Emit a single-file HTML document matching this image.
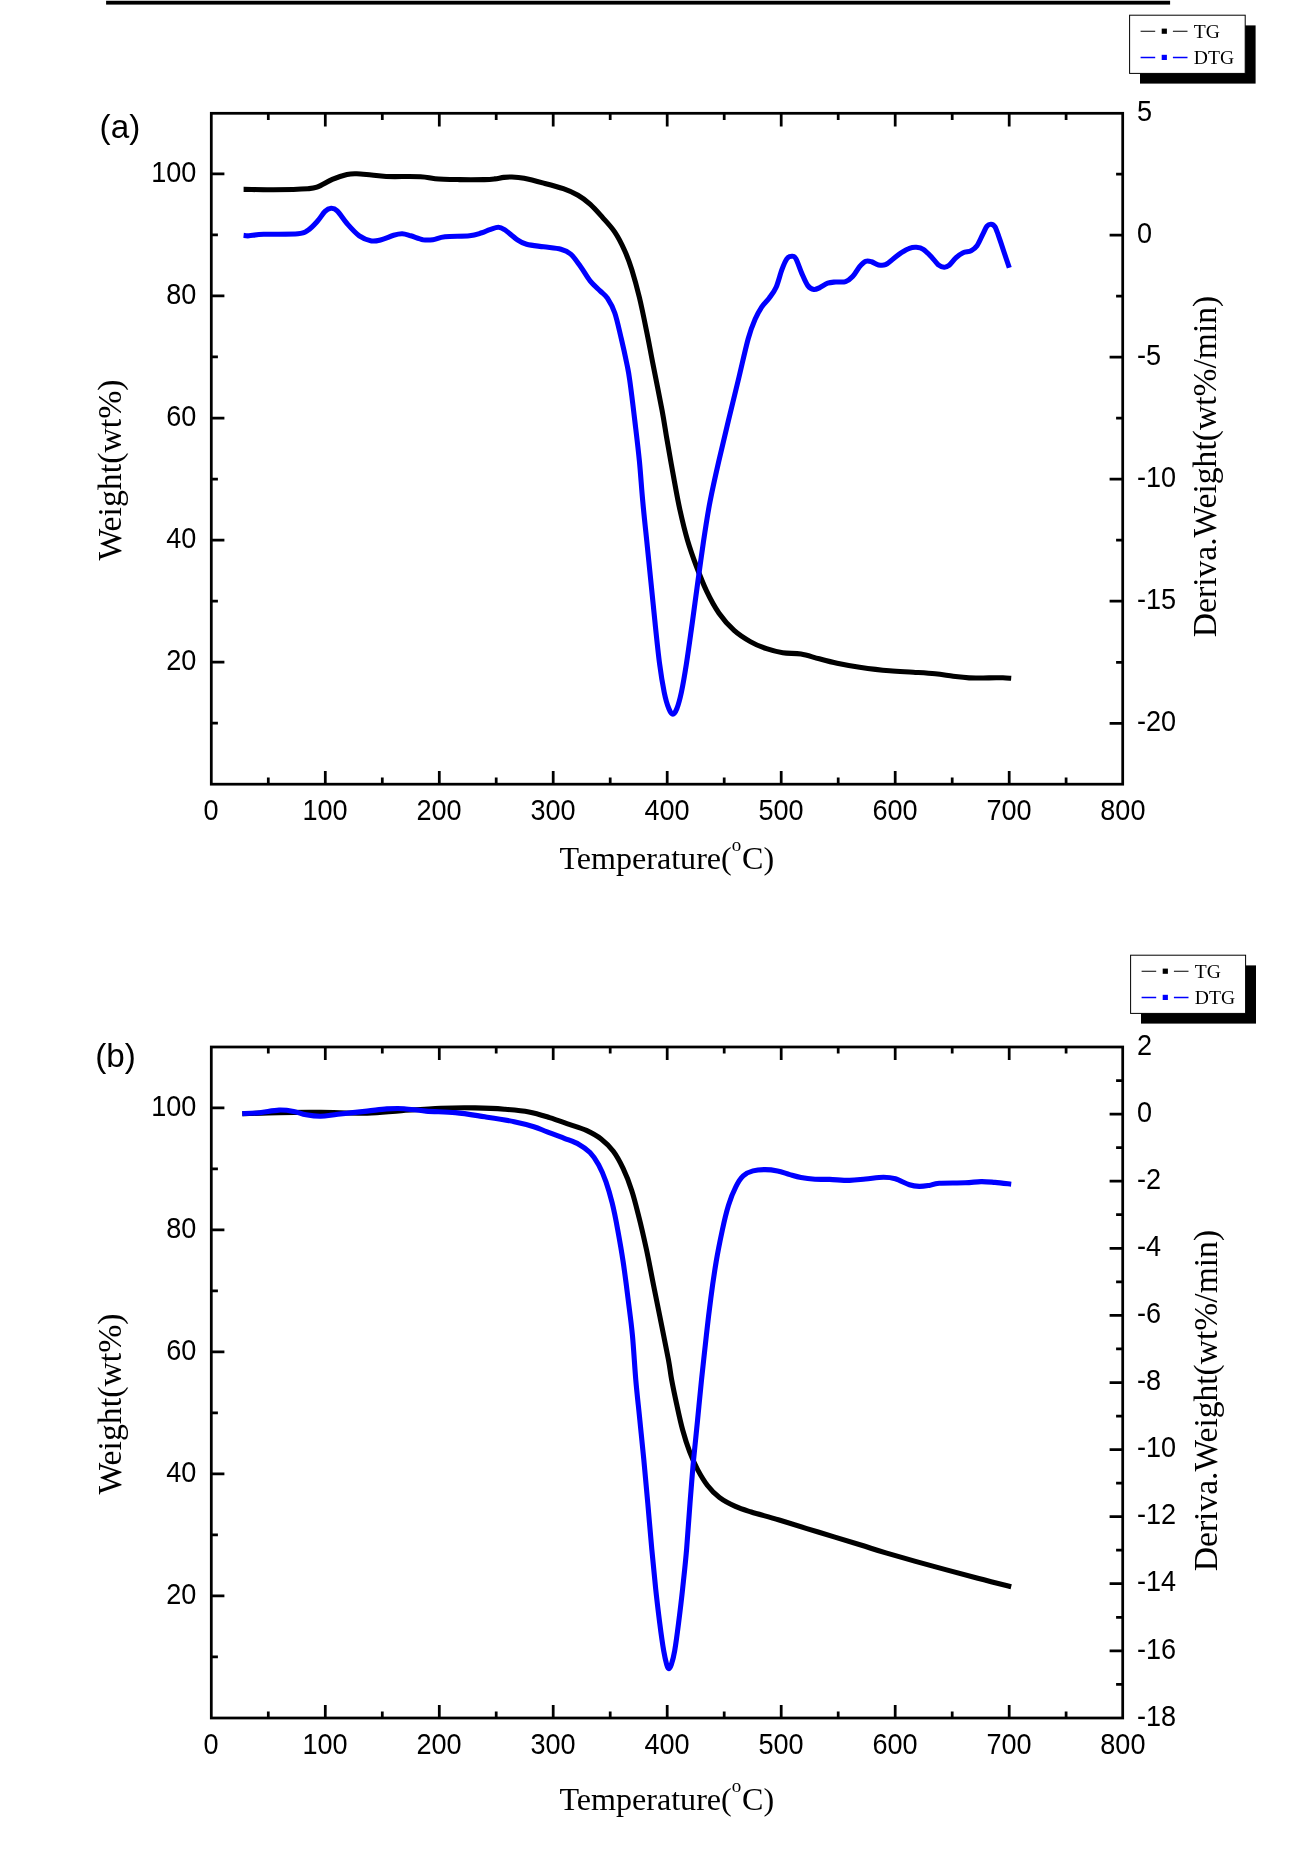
<!DOCTYPE html>
<html><head><meta charset="utf-8"><title>TG/DTG</title>
<style>
html,body{margin:0;padding:0;background:#fff;}
body{width:1306px;height:1874px;overflow:hidden;font-family:"Liberation Sans",sans-serif;}
svg{display:block;position:absolute;left:0;top:0;will-change:transform;}
</style></head><body>
<svg width="1306" height="1874" viewBox="0 0 1306 1874">
<rect x="106.1" y="0" width="1064" height="1.2" fill="#d9d9d9"/><rect x="106.1" y="0.9" width="1064" height="3.7" fill="#000"/>
<rect x="1140.0" y="25.4" width="115.6" height="58.2" fill="#000"/>
<rect x="1129.6" y="15.2" width="115.6" height="58.2" fill="#fff" stroke="#000" stroke-width="1"/>
<path d="M1140.6 31.2h14.6M1172.9 31.2h14.6" stroke="#000" stroke-width="1.1"/>
<rect x="1161.7" y="28.6" width="5.2" height="5.2" fill="#000"/>
<path d="M1140.6 57.4h14.6M1172.9 57.4h14.6" stroke="#00f" stroke-width="1.5"/>
<rect x="1161.7" y="54.8" width="5.2" height="5.2" fill="#00f"/>
<g font-family="Liberation Serif, serif" font-size="19.6" fill="#000"><text x="1193.8" y="38.2">TG</text><text x="1193.8" y="64.4">DTG</text></g>
<rect x="1141.0" y="965.4" width="115.0" height="58.2" fill="#000"/>
<rect x="1130.6" y="955.2" width="115.0" height="58.2" fill="#fff" stroke="#000" stroke-width="1"/>
<path d="M1141.6 971.2h14.6M1173.9 971.2h14.6" stroke="#000" stroke-width="1.1"/>
<rect x="1162.7" y="968.6" width="5.2" height="5.2" fill="#000"/>
<path d="M1141.6 997.4h14.6M1173.9 997.4h14.6" stroke="#00f" stroke-width="1.5"/>
<rect x="1162.7" y="994.8" width="5.2" height="5.2" fill="#00f"/>
<g font-family="Liberation Serif, serif" font-size="19.6" fill="#000"><text x="1194.8" y="978.2">TG</text><text x="1194.8" y="1004.4">DTG</text></g>
<rect x="211.3" y="113.3" width="911.4" height="670.9" fill="none" stroke="#000" stroke-width="2.75"/>
<path d="M268.3 784.2v-6.6M268.3 113.3v6.6M325.3 784.2v-13.1M325.3 113.3v13.1M382.3 784.2v-6.6M382.3 113.3v6.6M439.3 784.2v-13.1M439.3 113.3v13.1M496.2 784.2v-6.6M496.2 113.3v6.6M553.2 784.2v-13.1M553.2 113.3v13.1M610.2 784.2v-6.6M610.2 113.3v6.6M667.2 784.2v-13.1M667.2 113.3v13.1M724.2 784.2v-6.6M724.2 113.3v6.6M781.2 784.2v-13.1M781.2 113.3v13.1M838.2 784.2v-6.6M838.2 113.3v6.6M895.2 784.2v-13.1M895.2 113.3v13.1M952.2 784.2v-6.6M952.2 113.3v6.6M1009.2 784.2v-13.1M1009.2 113.3v13.1M1066.1 784.2v-6.6M1066.1 113.3v6.6M211.3 723.2h6.6M211.3 662.1h13.1M211.3 601.1h6.6M211.3 540.0h13.1M211.3 479.0h6.6M211.3 418.0h13.1M211.3 356.9h6.6M211.3 295.9h13.1M211.3 234.8h6.6M211.3 173.8h13.1M1122.7 235.0h-13.1M1122.7 357.1h-13.1M1122.7 479.2h-13.1M1122.7 601.2h-13.1M1122.7 723.3h-13.1M1122.7 174.0h-6.6M1122.7 296.1h-6.6M1122.7 418.1h-6.6M1122.7 540.2h-6.6M1122.7 662.3h-6.6" stroke="#000" stroke-width="2.75" fill="none"/>
<g font-family="Liberation Sans, sans-serif" font-size="28.80" fill="#000">
<text transform="translate(211.1 819.9) scale(0.9400 1)" text-anchor="middle">0</text>
<text transform="translate(325.1 819.9) scale(0.9400 1)" text-anchor="middle">100</text>
<text transform="translate(439.1 819.9) scale(0.9400 1)" text-anchor="middle">200</text>
<text transform="translate(553.0 819.9) scale(0.9400 1)" text-anchor="middle">300</text>
<text transform="translate(667.0 819.9) scale(0.9400 1)" text-anchor="middle">400</text>
<text transform="translate(781.0 819.9) scale(0.9400 1)" text-anchor="middle">500</text>
<text transform="translate(895.0 819.9) scale(0.9400 1)" text-anchor="middle">600</text>
<text transform="translate(1009.0 819.9) scale(0.9400 1)" text-anchor="middle">700</text>
<text transform="translate(1122.9 819.9) scale(0.9400 1)" text-anchor="middle">800</text>
<text transform="translate(196.4 669.8) scale(0.9400 1)" text-anchor="end">20</text>
<text transform="translate(196.4 547.7) scale(0.9400 1)" text-anchor="end">40</text>
<text transform="translate(196.4 425.7) scale(0.9400 1)" text-anchor="end">60</text>
<text transform="translate(196.4 303.6) scale(0.9400 1)" text-anchor="end">80</text>
<text transform="translate(196.4 181.5) scale(0.9400 1)" text-anchor="end">100</text>
<text transform="translate(1137.0 120.7) scale(0.9400 1)" text-anchor="start">5</text>
<text transform="translate(1137.0 242.7) scale(0.9400 1)" text-anchor="start">0</text>
<text transform="translate(1137.0 364.8) scale(0.9400 1)" text-anchor="start">-5</text>
<text transform="translate(1137.0 486.9) scale(0.9400 1)" text-anchor="start">-10</text>
<text transform="translate(1137.0 609.0) scale(0.9400 1)" text-anchor="start">-15</text>
<text transform="translate(1137.0 731.0) scale(0.9400 1)" text-anchor="start">-20</text>
</g>
<rect x="211.3" y="1047.0" width="911.4" height="671.0" fill="none" stroke="#000" stroke-width="2.75"/>
<path d="M268.3 1718.0v-6.6M268.3 1047.0v6.6M325.3 1718.0v-13.1M325.3 1047.0v13.1M382.3 1718.0v-6.6M382.3 1047.0v6.6M439.3 1718.0v-13.1M439.3 1047.0v13.1M496.2 1718.0v-6.6M496.2 1047.0v6.6M553.2 1718.0v-13.1M553.2 1047.0v13.1M610.2 1718.0v-6.6M610.2 1047.0v6.6M667.2 1718.0v-13.1M667.2 1047.0v13.1M724.2 1718.0v-6.6M724.2 1047.0v6.6M781.2 1718.0v-13.1M781.2 1047.0v13.1M838.2 1718.0v-6.6M838.2 1047.0v6.6M895.2 1718.0v-13.1M895.2 1047.0v13.1M952.2 1718.0v-6.6M952.2 1047.0v6.6M1009.2 1718.0v-13.1M1009.2 1047.0v13.1M1066.1 1718.0v-6.6M1066.1 1047.0v6.6M211.3 1656.9h6.6M211.3 1595.9h13.1M211.3 1534.9h6.6M211.3 1473.9h13.1M211.3 1412.9h6.6M211.3 1351.9h13.1M211.3 1290.9h6.6M211.3 1229.9h13.1M211.3 1168.9h6.6M211.3 1107.9h13.1M1122.7 1114.1h-13.1M1122.7 1181.2h-13.1M1122.7 1248.3h-13.1M1122.7 1315.4h-13.1M1122.7 1382.5h-13.1M1122.7 1449.5h-13.1M1122.7 1516.6h-13.1M1122.7 1583.7h-13.1M1122.7 1650.8h-13.1M1122.7 1080.5h-6.6M1122.7 1147.6h-6.6M1122.7 1214.7h-6.6M1122.7 1281.8h-6.6M1122.7 1348.9h-6.6M1122.7 1416.0h-6.6M1122.7 1483.1h-6.6M1122.7 1550.2h-6.6M1122.7 1617.3h-6.6M1122.7 1684.4h-6.6" stroke="#000" stroke-width="2.75" fill="none"/>
<g font-family="Liberation Sans, sans-serif" font-size="28.80" fill="#000">
<text transform="translate(211.1 1754.0) scale(0.9400 1)" text-anchor="middle">0</text>
<text transform="translate(325.1 1754.0) scale(0.9400 1)" text-anchor="middle">100</text>
<text transform="translate(439.1 1754.0) scale(0.9400 1)" text-anchor="middle">200</text>
<text transform="translate(553.0 1754.0) scale(0.9400 1)" text-anchor="middle">300</text>
<text transform="translate(667.0 1754.0) scale(0.9400 1)" text-anchor="middle">400</text>
<text transform="translate(781.0 1754.0) scale(0.9400 1)" text-anchor="middle">500</text>
<text transform="translate(895.0 1754.0) scale(0.9400 1)" text-anchor="middle">600</text>
<text transform="translate(1009.0 1754.0) scale(0.9400 1)" text-anchor="middle">700</text>
<text transform="translate(1122.9 1754.0) scale(0.9400 1)" text-anchor="middle">800</text>
<text transform="translate(196.4 1603.6) scale(0.9400 1)" text-anchor="end">20</text>
<text transform="translate(196.4 1481.6) scale(0.9400 1)" text-anchor="end">40</text>
<text transform="translate(196.4 1359.6) scale(0.9400 1)" text-anchor="end">60</text>
<text transform="translate(196.4 1237.6) scale(0.9400 1)" text-anchor="end">80</text>
<text transform="translate(196.4 1115.6) scale(0.9400 1)" text-anchor="end">100</text>
<text transform="translate(1137.0 1054.7) scale(0.9400 1)" text-anchor="start">2</text>
<text transform="translate(1137.0 1121.8) scale(0.9400 1)" text-anchor="start">0</text>
<text transform="translate(1137.0 1188.9) scale(0.9400 1)" text-anchor="start">-2</text>
<text transform="translate(1137.0 1256.0) scale(0.9400 1)" text-anchor="start">-4</text>
<text transform="translate(1137.0 1323.1) scale(0.9400 1)" text-anchor="start">-6</text>
<text transform="translate(1137.0 1390.2) scale(0.9400 1)" text-anchor="start">-8</text>
<text transform="translate(1137.0 1457.2) scale(0.9400 1)" text-anchor="start">-10</text>
<text transform="translate(1137.0 1524.3) scale(0.9400 1)" text-anchor="start">-12</text>
<text transform="translate(1137.0 1591.4) scale(0.9400 1)" text-anchor="start">-14</text>
<text transform="translate(1137.0 1658.5) scale(0.9400 1)" text-anchor="start">-16</text>
<text transform="translate(1137.0 1725.6) scale(0.9400 1)" text-anchor="start">-18</text>
</g>
<path d="M243.6 189.4C248.6 189.4 262.8 189.8 273.5 189.7C284.2 189.6 300.4 189.2 307.8 188.7C315.2 188.2 313.5 188.4 317.6 186.8C321.7 185.2 327.4 181.5 332.3 179.4C337.2 177.3 342.9 175.4 347.0 174.5C351.1 173.6 352.7 173.7 356.8 173.8C360.9 173.9 366.6 174.6 371.5 175.0C376.4 175.4 378.0 176.2 386.2 176.5C394.4 176.8 412.3 176.3 420.5 176.7C428.7 177.1 428.7 178.2 435.2 178.7C441.7 179.2 451.5 179.4 459.7 179.6C467.9 179.8 478.4 179.7 484.2 179.6C490.0 179.5 491.4 179.3 494.7 178.9C498.0 178.5 500.9 177.7 503.8 177.4C506.7 177.1 508.5 176.9 511.9 177.0C515.3 177.1 518.8 177.2 524.1 178.2C529.4 179.2 537.2 181.3 543.7 183.1C550.2 184.8 557.6 186.7 563.3 188.7C569.0 190.7 573.5 192.7 578.0 195.3C582.5 197.9 586.2 200.7 590.3 204.4C594.4 208.1 598.4 212.8 602.5 217.4C606.6 222.0 611.1 226.6 614.8 232.1C618.5 237.6 621.8 244.2 624.6 250.5C627.5 256.8 629.5 262.4 631.9 270.1C634.3 277.9 636.8 286.8 639.3 297.0C641.8 307.2 644.4 320.3 646.6 331.3C648.9 342.3 650.2 350.0 652.8 363.2C655.4 376.4 659.7 397.5 662.1 410.4C664.5 423.3 665.3 430.0 667.2 440.8C669.1 451.6 671.2 463.8 673.3 475.3C675.4 486.8 677.5 499.0 679.9 509.8C682.3 520.6 684.7 530.8 687.5 540.2C690.3 549.7 693.3 558.0 696.5 566.5C699.7 575.0 702.8 583.1 706.5 590.9C710.2 598.7 714.4 606.6 719.0 613.2C723.6 619.8 728.9 625.7 734.1 630.4C739.3 635.1 744.9 638.5 750.3 641.6C755.7 644.7 761.1 646.9 766.5 648.7C771.9 650.6 777.0 651.8 782.8 652.7C788.5 653.6 794.9 653.1 801.0 654.1C807.1 655.1 812.8 657.2 819.3 658.8C825.8 660.4 833.0 662.4 839.7 663.8C846.4 665.2 851.3 666.0 859.6 667.2C867.9 668.4 880.5 670.0 889.5 670.8C898.5 671.6 905.7 671.7 913.3 672.2C920.9 672.7 928.6 673.1 935.2 673.8C941.9 674.5 947.6 675.6 953.2 676.3C958.9 677.0 963.1 677.6 969.1 677.9C975.1 678.2 983.4 677.9 989.0 677.9C994.6 677.9 999.2 677.6 1002.9 677.7C1006.6 677.8 1009.8 678.2 1011.2 678.3" fill="none" stroke="#000" stroke-width="5.1" stroke-linejoin="round"/>
<path d="M243.6 235.3C244.5 235.4 245.7 236.0 249.0 235.8C252.3 235.6 255.5 234.6 263.7 234.3C271.9 234.0 290.6 234.5 298.0 233.8C305.4 233.2 304.5 232.5 307.8 230.4C311.1 228.3 314.7 224.2 317.6 221.0C320.5 217.8 322.8 213.4 325.0 211.3C327.2 209.2 329.1 208.4 331.1 208.3C333.1 208.2 334.6 208.3 337.2 210.8C339.8 213.3 343.3 219.3 347.0 223.5C350.7 227.7 355.2 232.9 359.3 235.8C363.4 238.7 367.8 240.2 371.5 240.9C375.2 241.6 377.6 240.6 381.3 239.7C385.0 238.8 390.1 236.3 393.6 235.3C397.1 234.3 399.4 233.7 402.2 233.8C405.0 233.9 407.2 234.8 410.7 235.8C414.2 236.8 419.3 239.0 423.0 239.7C426.7 240.3 429.1 240.2 432.8 239.7C436.5 239.2 438.9 237.3 445.0 236.7C451.1 236.0 463.4 236.5 469.5 235.8C475.6 235.2 478.4 233.8 481.8 232.8C485.2 231.8 487.0 230.5 489.8 229.6C492.6 228.7 495.9 227.2 498.4 227.2C500.8 227.2 501.4 227.6 504.5 229.6C507.6 231.6 513.1 236.9 516.8 239.4C520.5 241.9 522.1 243.1 526.6 244.3C531.1 245.5 538.0 246.0 543.7 246.8C549.4 247.6 556.4 248.0 560.9 249.2C565.4 250.4 567.4 251.2 570.7 254.1C574.0 257.0 577.2 261.9 580.5 266.4C583.8 270.9 587.0 277.0 590.3 281.1C593.6 285.2 597.2 288.0 600.1 290.9C603.0 293.8 605.0 294.5 607.4 298.2C609.8 301.9 612.5 306.2 614.8 313.0C617.1 319.8 619.2 329.9 621.3 338.7C623.4 347.5 625.8 358.7 627.2 365.6C628.6 372.5 628.4 370.8 629.7 380.0C631.0 389.2 633.2 407.1 634.8 420.6C636.4 434.1 638.1 447.6 639.4 461.1C640.7 474.6 641.5 488.2 642.8 501.7C644.0 515.2 645.5 528.7 646.9 542.2C648.3 555.7 649.6 569.3 651.0 582.8C652.4 596.3 653.7 609.8 655.1 623.3C656.5 636.8 658.1 652.4 659.6 663.9C661.1 675.4 662.7 684.8 664.2 692.2C665.7 699.6 667.3 704.9 668.8 708.5C670.2 712.1 671.5 714.1 672.9 714.1C674.2 714.1 675.5 712.1 676.9 708.5C678.3 704.9 679.8 699.6 681.4 692.2C683.0 684.8 684.6 675.4 686.4 663.9C688.2 652.4 690.3 636.8 692.2 623.3C694.1 609.8 695.8 596.3 697.7 582.8C699.6 569.3 701.4 555.7 703.4 542.2C705.4 528.7 707.4 515.2 710.0 501.7C712.6 488.2 715.7 474.6 718.8 461.1C721.9 447.6 725.1 434.1 728.4 420.6C731.6 407.1 735.0 393.6 738.3 380.0C741.6 366.4 745.4 348.8 748.2 338.7C751.0 328.6 752.9 324.4 755.2 319.1C757.5 313.8 759.5 310.3 761.8 306.8C764.1 303.3 766.7 301.4 769.1 298.2C771.5 295.0 773.9 292.4 776.0 287.6C778.1 282.8 780.1 274.4 781.9 269.6C783.7 264.8 785.2 260.9 786.9 258.7C788.6 256.5 790.4 256.3 791.9 256.3C793.4 256.3 794.2 255.8 795.9 258.7C797.6 261.6 799.9 269.1 801.9 273.6C803.9 278.1 805.8 283.0 807.8 285.6C809.8 288.2 811.8 289.2 813.8 289.5C815.8 289.8 817.5 288.7 819.8 287.6C822.1 286.6 825.1 284.1 827.7 283.2C830.4 282.3 832.7 282.3 835.7 282.0C838.7 281.7 842.8 282.5 845.6 281.6C848.4 280.7 850.3 279.1 852.6 276.6C854.9 274.1 857.4 269.2 859.6 266.6C861.8 264.1 863.6 262.1 865.6 261.3C867.6 260.5 869.4 261.1 871.5 261.7C873.6 262.3 876.2 264.4 878.5 264.9C880.8 265.4 883.0 265.7 885.5 264.7C888.0 263.7 890.8 260.7 893.4 258.7C896.0 256.7 898.7 254.4 901.4 252.7C904.1 251.0 906.9 249.2 909.4 248.3C911.9 247.4 914.0 247.1 916.3 247.3C918.6 247.5 920.8 247.7 923.3 249.3C925.8 250.9 928.8 254.1 931.3 256.7C933.8 259.3 936.1 262.9 938.2 264.7C940.4 266.4 942.4 267.1 944.2 267.2C946.0 267.3 947.2 266.9 949.2 265.3C951.2 263.7 953.8 259.8 956.1 257.7C958.4 255.6 960.6 253.9 963.1 252.7C965.6 251.5 968.8 251.9 971.1 250.7C973.4 249.5 975.0 248.5 977.0 245.7C979.0 242.9 981.3 237.1 983.0 233.8C984.7 230.6 985.7 227.8 987.0 226.2C988.3 224.6 989.7 224.1 991.0 224.2C992.3 224.3 993.7 224.7 995.0 226.8C996.3 228.9 997.4 232.7 998.9 236.8C1000.4 241.0 1002.2 246.5 1003.9 251.7C1005.6 256.9 1008.4 265.1 1009.3 267.8" fill="none" stroke="#00f" stroke-width="5.1" stroke-linejoin="round"/>
<path d="M242.3 1113.8C248.4 1113.6 265.9 1112.8 279.0 1112.6C292.1 1112.3 306.0 1112.2 320.7 1112.3C335.4 1112.4 353.7 1113.4 367.2 1113.1C380.7 1112.8 389.2 1111.4 401.5 1110.6C413.8 1109.8 428.4 1108.7 440.7 1108.2C452.9 1107.8 464.4 1107.7 475.0 1107.9C485.6 1108.1 495.4 1108.5 504.4 1109.2C513.4 1109.9 521.4 1110.5 528.9 1111.9C536.4 1113.3 542.9 1115.5 549.6 1117.6C556.3 1119.7 563.1 1122.2 569.2 1124.3C575.3 1126.4 581.1 1128.0 586.4 1130.4C591.7 1132.9 596.6 1135.5 601.1 1139.0C605.6 1142.5 609.6 1146.4 613.3 1151.3C617.0 1156.2 620.0 1161.9 623.1 1168.4C626.2 1174.9 629.1 1182.3 631.7 1190.5C634.4 1198.7 636.5 1207.6 639.0 1217.4C641.5 1227.2 643.9 1237.9 646.4 1249.3C648.9 1260.7 651.2 1273.8 653.7 1286.0C656.2 1298.2 658.7 1310.5 661.1 1322.8C663.5 1335.0 666.6 1350.0 668.4 1359.5C670.2 1369.0 670.3 1372.6 671.7 1380.0C673.1 1387.4 674.8 1395.6 676.6 1403.9C678.4 1412.2 680.4 1421.8 682.6 1429.8C684.8 1437.8 687.1 1445.1 689.6 1451.7C692.1 1458.3 694.6 1464.0 697.6 1469.6C700.6 1475.2 703.9 1480.8 707.5 1485.5C711.1 1490.2 714.9 1494.0 719.5 1497.5C724.1 1501.0 730.1 1504.0 735.4 1506.4C740.7 1508.8 744.0 1509.7 751.3 1512.0C758.6 1514.3 767.9 1516.6 779.2 1520.0C790.5 1523.4 805.5 1528.2 819.0 1532.3C832.5 1536.4 848.9 1541.4 860.0 1544.8C871.1 1548.2 873.9 1549.4 885.9 1552.9C897.9 1556.4 916.6 1561.7 931.9 1565.9C947.2 1570.1 964.6 1574.7 977.8 1578.2C991.0 1581.7 1005.6 1585.3 1011.2 1586.7" fill="none" stroke="#000" stroke-width="5.1" stroke-linejoin="round"/>
<path d="M242.3 1113.6C245.2 1113.5 253.3 1113.4 259.4 1112.8C265.5 1112.2 273.3 1110.3 279.0 1110.1C284.7 1109.9 289.2 1110.6 293.7 1111.4C298.2 1112.2 301.5 1114.0 306.0 1114.8C310.5 1115.6 315.4 1116.4 320.7 1116.3C326.0 1116.2 330.1 1115.2 337.8 1114.3C345.6 1113.4 359.0 1112.0 367.2 1111.1C375.4 1110.2 380.7 1109.3 386.8 1108.9C392.9 1108.5 397.5 1108.3 404.0 1108.7C410.5 1109.1 417.4 1110.4 426.0 1111.1C434.6 1111.8 445.6 1111.6 455.4 1112.6C465.2 1113.5 475.0 1115.3 484.8 1116.8C494.6 1118.3 506.0 1120.0 514.2 1121.7C522.4 1123.4 528.3 1125.0 533.8 1126.7C539.3 1128.4 542.1 1130.0 547.2 1131.9C552.3 1133.8 559.0 1136.2 564.3 1138.3C569.6 1140.4 574.7 1142.0 579.0 1144.4C583.3 1146.8 586.7 1149.1 590.0 1152.5C593.3 1155.9 595.9 1159.8 598.6 1164.7C601.3 1169.6 603.8 1175.6 606.0 1181.9C608.2 1188.2 610.1 1194.7 612.1 1202.7C614.1 1210.7 615.9 1219.9 617.7 1229.7C619.5 1239.5 621.4 1250.1 623.1 1261.5C624.8 1272.9 626.5 1286.0 628.0 1298.3C629.5 1310.5 631.1 1321.4 632.4 1335.0C633.7 1348.6 634.6 1365.9 635.8 1380.0C637.0 1394.1 638.5 1406.5 639.8 1419.8C641.1 1433.1 642.5 1445.7 643.8 1459.6C645.1 1473.5 646.5 1488.5 647.8 1503.4C649.1 1518.3 650.5 1534.9 651.8 1549.2C653.1 1563.5 654.4 1576.7 655.7 1589.0C657.0 1601.3 658.4 1612.6 659.7 1622.9C661.0 1633.2 662.5 1643.8 663.7 1650.8C664.9 1657.8 665.9 1661.7 666.7 1664.7C667.5 1667.7 667.9 1668.7 668.7 1668.7C669.5 1668.7 670.3 1667.7 671.3 1664.7C672.3 1661.7 673.5 1657.8 674.7 1650.8C675.9 1643.8 677.3 1633.2 678.6 1622.9C679.9 1612.6 681.3 1601.3 682.6 1589.0C683.9 1576.7 685.4 1563.5 686.6 1549.2C687.8 1534.9 688.8 1518.3 690.0 1503.4C691.2 1488.5 692.3 1473.5 693.6 1459.6C694.9 1445.7 696.3 1433.1 697.6 1419.8C698.9 1406.5 700.0 1394.1 701.5 1380.0C703.0 1365.9 704.9 1348.6 706.4 1335.0C707.9 1321.4 709.2 1310.5 710.8 1298.3C712.4 1286.0 714.3 1272.9 716.2 1261.5C718.1 1250.1 720.4 1239.1 722.4 1229.7C724.4 1220.3 726.3 1212.4 728.5 1205.2C730.7 1198.0 733.3 1191.7 735.8 1186.8C738.2 1181.9 740.3 1178.4 743.2 1175.8C746.1 1173.2 749.3 1171.9 753.0 1170.9C756.7 1169.9 761.1 1169.6 765.2 1169.6C769.3 1169.6 773.4 1170.1 777.5 1170.9C781.6 1171.7 785.9 1173.5 789.8 1174.6C793.7 1175.7 796.8 1176.7 801.0 1177.5C805.2 1178.3 810.2 1178.9 815.0 1179.2C819.8 1179.5 823.9 1179.2 829.7 1179.4C835.5 1179.6 843.6 1180.5 849.6 1180.4C855.6 1180.3 860.0 1179.5 865.6 1179.0C871.2 1178.5 878.5 1177.2 883.5 1177.2C888.5 1177.2 891.1 1177.5 895.4 1178.8C899.7 1180.1 905.4 1183.5 909.4 1184.8C913.4 1186.1 916.0 1186.3 919.3 1186.4C922.6 1186.5 926.0 1185.9 929.3 1185.4C932.6 1184.9 933.2 1183.6 939.2 1183.2C945.2 1182.8 958.1 1183.1 965.1 1182.8C972.1 1182.5 976.0 1181.7 981.0 1181.6C986.0 1181.5 990.0 1182.0 995.0 1182.4C1000.0 1182.8 1008.5 1183.9 1011.2 1184.2" fill="none" stroke="#00f" stroke-width="5.1" stroke-linejoin="round"/>
<g font-family="Liberation Sans, sans-serif" font-size="33.4" fill="#000"><text x="99.6" y="138" textLength="40.6" lengthAdjust="spacingAndGlyphs">(a)</text><text x="95.2" y="1067" textLength="40.6" lengthAdjust="spacingAndGlyphs">(b)</text></g>
<text transform="translate(121.0 470.0) rotate(-90) scale(1.0246 1)" text-anchor="middle" font-family="Liberation Serif, serif" font-size="33.0">Weight(wt%)</text>
<text transform="translate(121.0 1404.0) rotate(-90) scale(1.0246 1)" text-anchor="middle" font-family="Liberation Serif, serif" font-size="33.0">Weight(wt%)</text>
<text transform="translate(1216.4 466.5) rotate(-90) scale(1.0180 1)" text-anchor="middle" font-family="Liberation Serif, serif" font-size="33.0">Deriva.Weight(wt%/min)</text>
<text transform="translate(1216.8 1400.6) rotate(-90) scale(1.0180 1)" text-anchor="middle" font-family="Liberation Serif, serif" font-size="33.0">Deriva.Weight(wt%/min)</text>
<text x="666.8" y="868.9" text-anchor="middle" font-family="Liberation Serif, serif" font-size="32.1">Temperature(<tspan font-size="19" dy="-18">o</tspan><tspan dy="18" dx="0.8">C)</tspan></text>
<text x="666.8" y="1809.7" text-anchor="middle" font-family="Liberation Serif, serif" font-size="32.1">Temperature(<tspan font-size="19" dy="-18">o</tspan><tspan dy="18" dx="0.8">C)</tspan></text>
</svg>
</body></html>
